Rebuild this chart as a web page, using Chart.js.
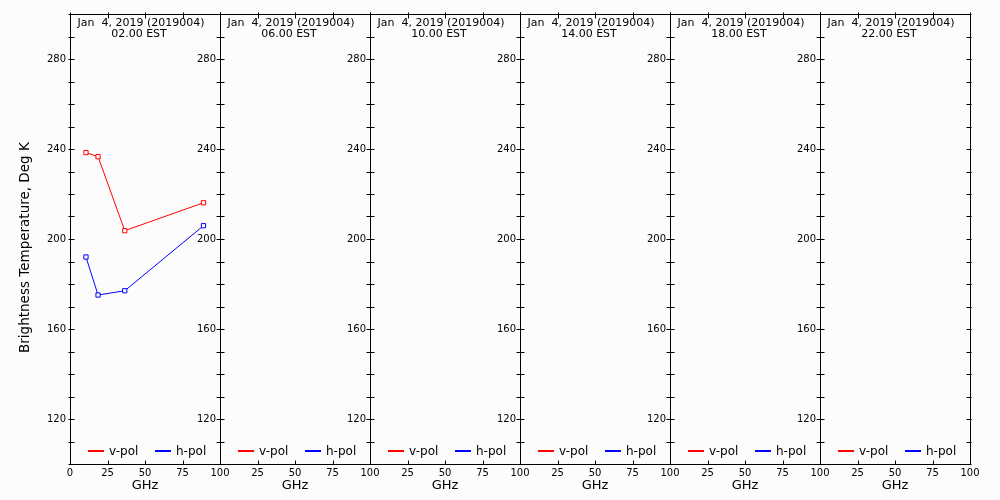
<!DOCTYPE html>
<html><head><meta charset="utf-8">
<script src="https://cdn.jsdelivr.net/npm/chart.js@4.4.1/dist/chart.umd.min.js"></script>
<style>
html,body{margin:0;padding:0;background:#fcfcfc;}
#wrap{position:relative;width:1000px;height:500px;overflow:hidden;background:#fcfcfc;}
canvas{position:absolute;top:0;}
</style></head><body><div id="wrap"></div>
<script>
// ---- data ----
const frequencies = [10.65, 18.7, 36.5, 89.0];           // GHz
const dateLabel = 'Jan  4, 2019 (2019004)';
const timeLabels = ['02.00 EST', '06.00 EST', '10.00 EST', '14.00 EST', '18.00 EST', '22.00 EST'];
const vPol0200 = [238.4, 236.6, 203.7, 216.1];
const hPol0200 = [192.0, 175.1, 177.0, 205.9];
const vPol0600 = [], hPol0600 = [];
const vPol1000 = [], hPol1000 = [];
const vPol1400 = [], hPol1400 = [];
const vPol1800 = [], hPol1800 = [];
const vPol2200 = [], hPol2200 = [];
const vPolPanels = [vPol0200, vPol0600, vPol1000, vPol1400, vPol1800, vPol2200];
const hPolPanels = [hPol0200, hPol0600, hPol1000, hPol1400, hPol1800, hPol2200];
const seriesNames = ['v-pol', 'h-pol'];
const seriesColors = ['#ff0000', '#0000ff'];
const yTickLabels = [120, 160, 200, 240, 280];
const xTickLabels = [0, 25, 50, 75, 100];
const yAxisTitle = 'Brightness Temperature, Deg K';
const xAxisTitle = 'GHz';

// ---- layout ----
const FONT = '"DejaVu Sans", sans-serif';
const BG = '#fcfcfc';
const PANEL_LEFT = 70, PANEL_W = 150, PLOT_TOP = 14, XAXIS_H = 36, RIGHT_PAD = 15;
Chart.defaults.font.family = FONT;
Chart.defaults.color = '#000';

function toPoints(values) {
  const pts = [];
  values.forEach((v, k) => { if (v !== undefined && v !== null) pts.push({x: frequencies[k], y: v}); });
  return pts;
}

const decor = {
  id: 'panelDecor',
  afterDraw(chart, args, opts) {
    const ctx = chart.ctx;
    const {left, right, top, bottom} = chart.chartArea;
    const xs = chart.scales.x, ys = chart.scales.y;
    const L = Math.round(left) + 0.5, R = Math.round(right) + 0.5;
    const T = Math.round(top) + 0.5, B = Math.round(bottom) + 0.5;
    ctx.save();
    ctx.strokeStyle = '#000';
    ctx.lineWidth = 1;
    ctx.beginPath();
    ctx.moveTo(L, T); ctx.lineTo(R, T); ctx.lineTo(R, B); ctx.lineTo(L, B); ctx.closePath();
    ys.ticks.forEach(t => {
      const py = Math.round(ys.getPixelForValue(t.value)) + 0.5;
      ctx.moveTo(L - 2, py); ctx.lineTo(L + 4, py);
      ctx.moveTo(R - 4, py); ctx.lineTo(R + 1, py);
    });
    xs.ticks.forEach(t => {
      const px = Math.round(xs.getPixelForValue(t.value)) + 0.5;
      ctx.moveTo(px, B); ctx.lineTo(px, B - 4);
      ctx.moveTo(px, T - 2); ctx.lineTo(px, T + 4);
    });
    ctx.stroke();

    // panel title (inside plot area)
    ctx.fillStyle = '#000';
    ctx.font = '11px ' + FONT;
    ctx.textAlign = 'center';
    ctx.textBaseline = 'alphabetic';
    ctx.fillText(dateLabel, left + 71, 26);
    ctx.fillText(opts.time, left + 69, 36.5);

    // legend (inside plot area, bottom)
    ctx.font = '12px ' + FONT;
    ctx.textAlign = 'left';
    ctx.textBaseline = 'middle';
    const ly = 451;
    const offs = [18, 85];
    seriesNames.forEach((name, k) => {
      ctx.fillStyle = seriesColors[k];
      ctx.fillRect(Math.round(left) + offs[k], ly - 1, 16, 2);
      ctx.fillStyle = '#000';
      ctx.fillText(name, left + offs[k] + 21, ly + 0.5);
    });
    ctx.restore();
  }
};

const wrap = document.getElementById('wrap');
for (let i = 0; i < 6; i++) {
  const W = i === 0 ? 70 : 50;
  const cw = W + PANEL_W + RIGHT_PAD;
  const cv = document.createElement('canvas');
  cv.width = cw; cv.height = 500;
  cv.style.left = (PANEL_LEFT + PANEL_W * i - W) + 'px';
  cv.style.width = cw + 'px'; cv.style.height = '500px';
  wrap.appendChild(cv);
  const datasets = [vPolPanels[i], hPolPanels[i]].map((vals, k) => ({
    label: seriesNames[k],
    data: toPoints(vals),
    borderColor: seriesColors[k],
    backgroundColor: seriesColors[k],
    pointBorderColor: seriesColors[k],
    pointBackgroundColor: BG,
    borderWidth: 1,
    pointStyle: 'rect',
    pointRadius: 3,
    pointBorderWidth: 1,
    tension: 0,
    fill: false
  }));
  new Chart(cv, {
    type: 'line',
    data: {datasets},
    plugins: [decor],
    options: {
      responsive: false,
      animation: false,
      devicePixelRatio: 1,
      layout: {padding: {top: PLOT_TOP, right: RIGHT_PAD, left: 0, bottom: 0}},
      plugins: {legend: {display: false}, tooltip: {enabled: false}, title: {display: false},
                panelDecor: {time: timeLabels[i]}},
      scales: {
        x: {
          type: 'linear', min: 0, max: 100,
          grid: {display: false, drawTicks: false}, border: {display: false},
          ticks: {stepSize: 25, autoSkip: false, maxRotation: 0, padding: 3, color: '#000',
                  font: {size: 10},
                  callback: (v) => (i > 0 && v === 0) ? '' : (xTickLabels.includes(v) ? String(v) : '')},
          title: {display: true, text: xAxisTitle, color: '#000', font: {size: 13}, padding: {top: 0, bottom: 7}},
          afterFit: (s) => { s.height = XAXIS_H; }
        },
        y: {
          type: 'linear', min: 100, max: 300,
          grid: {display: false, drawTicks: false}, border: {display: false},
          ticks: {stepSize: 10, autoSkip: false, padding: 4, color: '#000', font: {size: 10},
                  callback: (v) => yTickLabels.includes(v) ? String(v) : ''},
          title: i === 0 ? {display: true, text: yAxisTitle + '    ', color: '#000', font: {size: 13.5},
                            padding: {top: 17, bottom: 0}} : {display: false},
          afterFit: (s) => { s.width = W; }
        }
      }
    }
  });
}
</script>
</body></html>
